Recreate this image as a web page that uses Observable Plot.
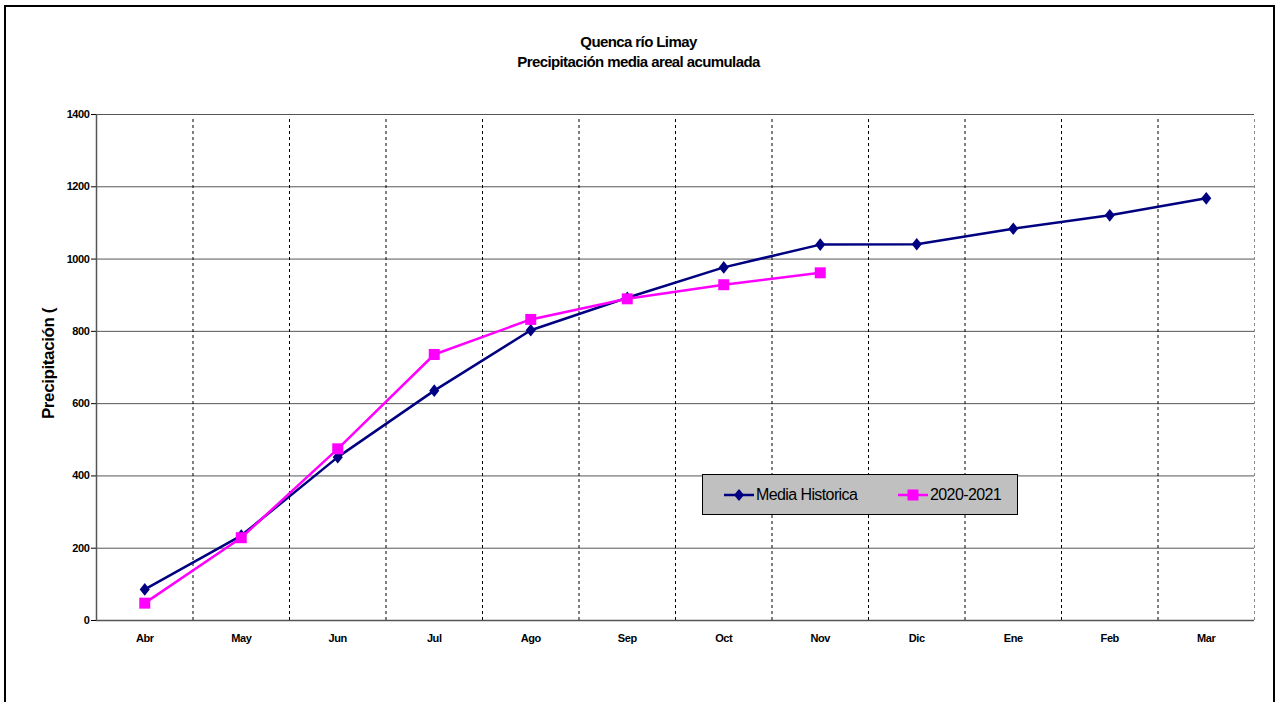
<!DOCTYPE html>
<html>
<head>
<meta charset="utf-8">
<script src="https://cdn.jsdelivr.net/npm/d3@7"></script>
<script src="https://cdn.jsdelivr.net/npm/@observablehq/plot@0.6"></script>
<style>
  body { margin: 0; background: #fff; overflow: hidden; font-family: Arial, "Liberation Sans", sans-serif; }
  #wrap { position: relative; width: 1277px; height: 702px; overflow: hidden; background: #fff; }
  #frame { position: absolute; left: 4px; top: 5px; width: 1271px; height: 800px; border: 2px solid #000; box-sizing: border-box; pointer-events: none; }
  #title { height: 100px; box-sizing: border-box; padding-top: 32px; text-align: center; font-weight: bold; font-size: 15px; line-height: 20px; letter-spacing: -0.6px; color: #000; }
  #legend { position: absolute; left: 702px; top: 474px; width: 316px; height: 41px; box-sizing: border-box; border: 1px solid #000; background: #c0c0c0; font-size: 16px; letter-spacing: -0.6px; color: #000; }
  #legend .item { position: absolute; top: 0; height: 39px; display: flex; align-items: center; }
  #legend svg { display: block; margin-right: 1px; }
  #chart svg { display: block; }
</style>
</head>
<body>
<div id="wrap">
  <div id="title"></div>
  <div id="chart"></div>
  <div id="legend"></div>
  <div id="frame"></div>
</div>
<script>
const titleLines = ["Quenca río Limay", "Precipitación media areal acumulada"];
const yLabel = "Precipitación (";
const months = ["Abr", "May", "Jun", "Jul", "Ago", "Sep", "Oct", "Nov", "Dic", "Ene", "Feb", "Mar"];
const mediaHistorica = [86, 235, 452, 636, 803, 893, 977, 1040, 1041, 1084, 1121, 1168];
const temporada2020 = [48, 229, 475, 736, 833, 890, 929, 962];
const yTicks = [0, 200, 400, 600, 800, 1000, 1200, 1400];
const seriesNames = ["Media Historica", "2020-2021"];
const navy = "#000080", magenta = "#ff00ff";

document.getElementById("title").innerHTML = titleLines.map(t => `<div>${t}</div>`).join("");

const idx = months.map((d, i) => i);
const boundaries = months.map((d, i) => i + 0.5);
const histData = mediaHistorica.map((v, i) => ({i, v}));
const curData = temporada2020.map((v, i) => ({i, v}));

const diamond = {
  draw(ctx, size) {
    const r = Math.sqrt(size / Math.PI);
    const h = r, w = r * 0.8;
    ctx.moveTo(0, -h); ctx.lineTo(w, 0); ctx.lineTo(0, h); ctx.lineTo(-w, 0); ctx.closePath();
  }
};

const chart = Plot.plot({
  width: 1277,
  height: 602,
  marginTop: 14,
  marginBottom: 82,
  marginLeft: 96,
  marginRight: 23,
  style: {fontFamily: "Arial, 'Liberation Sans', sans-serif", fontSize: "11px", fontWeight: "bold", color: "#000", background: "transparent", letterSpacing: "-0.4px"},
  x: {type: "linear", domain: [-0.5, months.length - 0.5], ticks: idx, tickFormat: i => months[i], tickSize: 0, tickPadding: 14, label: null},
  y: {domain: [0, 1400], ticks: yTicks, tickSize: 5, tickPadding: 2, label: null, tickFormat: d => String(d)},
  marks: [
    Plot.ruleY(yTicks.filter(d => d > 0), {stroke: "#555", strokeWidth: 1}),
    Plot.ruleX(boundaries.slice(0, -1), {y1: 0, y2: 1400, stroke: "#000", strokeDasharray: "3,3", insetBottom: -4}),
    Plot.ruleX(boundaries.slice(-1), {y1: 0, y2: 1400, stroke: "#888", strokeDasharray: "3,3", insetBottom: -4}),
    Plot.ruleY([0], {stroke: "#555", strokeWidth: 1.5}),
    Plot.ruleX([-0.5], {y1: 0, y2: 1400, stroke: "#555", strokeWidth: 1.5}),
    Plot.line(histData, {x: "i", y: "v", stroke: navy, strokeWidth: 2.5}),
    Plot.line(curData, {x: "i", y: "v", stroke: magenta, strokeWidth: 2.5}),
    Plot.dot(histData, {x: "i", y: "v", symbol: diamond, r: 6.3, fill: navy}),
    Plot.dot(curData, {x: "i", y: "v", symbol: "square", r: 6.2, fill: magenta}),
    Plot.text([yLabel], {text: d => d, frameAnchor: "left", textAnchor: "middle", rotate: -90, dx: -48, dy: -4, fontSize: 17, fontWeight: "bold", fill: "#000"})
  ]
});
document.getElementById("chart").appendChild(chart);

// legend
const legend = document.getElementById("legend");
const swatch = (color, shape) => `<svg width="32" height="16" viewBox="0 0 32 16">
  <line x1="1" y1="8" x2="31" y2="8" stroke="${color}" stroke-width="2.5"/>
  ${shape === "diamond" ? `<path d="M16,2 L21,8 L16,14 L11,8 Z" fill="${color}"/>` : `<rect x="10.5" y="2.5" width="11" height="11" fill="${color}"/>`}
</svg>`;
const lefts = [20, 194];
const shapes = ["diamond", "square"];
const colors = [navy, magenta];
seriesNames.forEach((name, k) => {
  const el = document.createElement("div");
  el.className = "item";
  el.style.left = lefts[k] + "px";
  el.innerHTML = swatch(colors[k], shapes[k]) + `<span>${name}</span>`;
  legend.appendChild(el);
});
</script>
</body>
</html>
